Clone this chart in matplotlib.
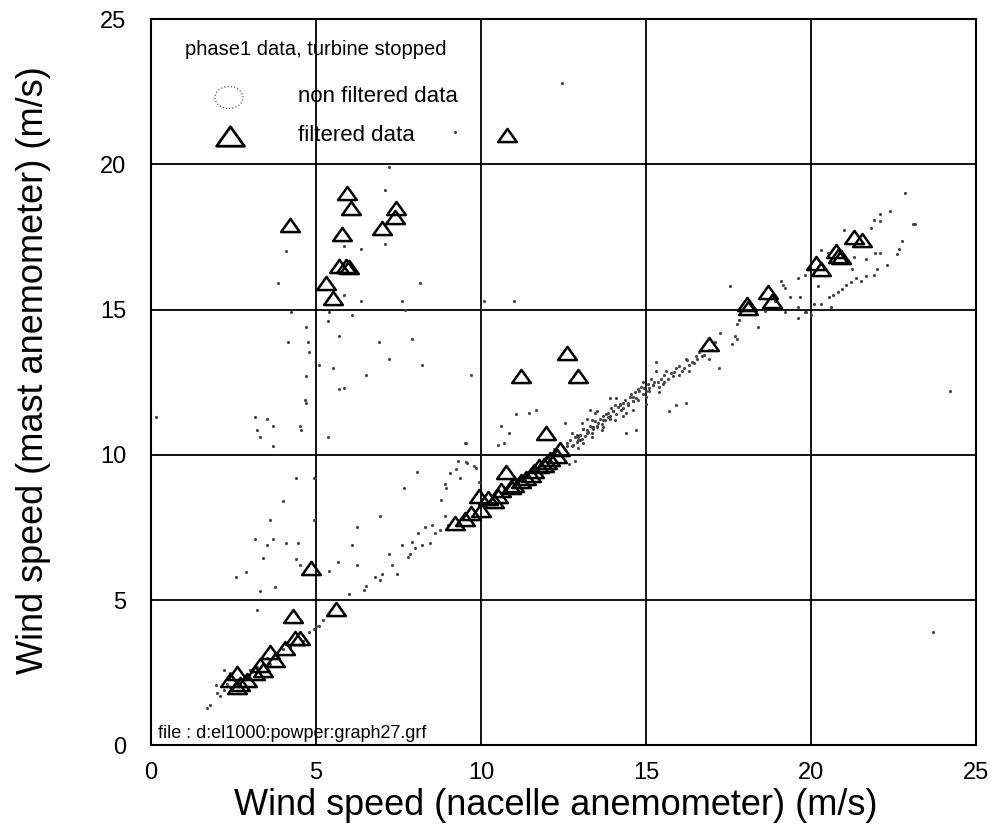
import matplotlib
matplotlib.use("Agg")
import matplotlib.pyplot as plt
from matplotlib.path import Path
from matplotlib.patches import Ellipse

plt.rcParams['font.family'] = ['Liberation Sans', 'DejaVu Sans']

# filtered data (triangles)
filt_x = [4.2, 5.95, 6.07, 7.43, 7.4, 7.0, 5.8, 5.7, 5.9, 6.0, 5.3, 5.5, 10.8,
          4.86, 5.6, 4.3, 4.35, 4.5, 4.05, 3.6, 3.75, 3.3, 3.4, 3.15, 2.6, 2.4, 2.6, 2.9, 2.7,
          9.2, 9.5, 9.7, 10.0, 9.94, 10.4, 10.2, 10.5, 10.6, 10.75, 10.9, 11.0, 11.2, 11.35,
          11.5, 11.6, 11.75, 11.9, 12.0, 12.1, 12.3, 12.4, 11.96,
          11.2, 12.6, 12.95, 16.9, 18.07, 18.1, 18.7, 18.8, 20.15, 20.3, 20.75, 20.8, 20.9,
          21.3, 21.55]
filt_y = [17.9, 19.0, 18.5, 18.5, 18.2, 17.8, 17.6, 16.5, 16.5, 16.45, 15.9, 15.4, 21.0,
          6.1, 4.7, 4.45, 3.7, 3.7, 3.35, 3.2, 2.93, 2.76, 2.6, 2.5, 2.5, 2.25, 2.0, 2.24, 2.1,
          7.65, 7.8, 8.0, 8.1, 8.6, 8.4, 8.5, 8.6, 8.8, 9.4, 8.9, 8.95, 9.1, 9.2,
          9.3, 9.45, 9.6, 9.65, 9.75, 9.85, 9.95, 10.2, 10.76,
          12.7, 13.5, 12.7, 13.8, 15.2, 15.07, 15.6, 15.3, 16.6, 16.4, 17.0, 16.86, 16.8,
          17.5, 17.4]

# non filtered data (small dots)
raw_x = [1.7, 1.96, 1.8, 2.0, 2.1, 2.2, 2.3, 2.4, 2.6, 2.9, 3.0, 3.2, 3.5, 3.6, 3.8, 4.0,
         4.2, 4.6, 4.8, 5.0, 5.2, 5.4, 2.4, 2.2,
         6.0, 6.45, 6.95, 7.45, 7.85, 8.45, 8.75, 6.8, 7.2, 7.6, 8.1, 8.5, 7.9, 8.3, 8.9,
         7.0, 7.3, 7.8, 8.0, 8.2, 8.6, 9.0, 6.5,
         5.65, 6.25, 6.25, 6.95, 7.67, 8.07, 8.9, 9.06, 9.3, 9.58, 9.8, 6.1, 5.4,
         2.57, 2.87, 3.3, 3.75, 3.4, 3.15, 3.7, 3.5, 4.1, 4.45, 3.6, 4.0, 4.4, 4.4, 4.5,
         4.95, 4.95, 4.95, 5.1, 3.2,
         3.15, 3.5, 3.2, 3.3, 3.7, 3.7, 4.5, 4.55, 4.65, 4.7, 4.7, 4.75, 4.8, 4.15, 4.7,
         5.1, 5.35, 5.5, 5.7, 5.35, 5.7, 5.85, 6.5, 6.9, 7.2, 7.9, 8.2, 9.7, 9.5, 4.25,
         5.4, 6.1, 7.7, 0.15,
         4.1, 3.85, 5.85, 6.35, 7.1, 7.1, 7.2, 8.15, 7.6, 6.35, 5.85, 11.0, 9.2, 12.45, 10.1,
         11.05, 11.45, 11.65, 10.6, 10.85, 9.55, 10.5, 10.7, 12.55, 12.75, 12.95, 13.2, 13.35,
         12.85, 12.65, 9.55, 9.25, 9.35, 8.95, 8.8, 9.85, 9.95,
         12.75, 12.95, 13.2, 13.35, 13.3, 13.55, 13.85, 13.95, 14.15, 14.4, 14.45, 14.55,
         14.75, 14.85, 15.0, 15.15, 15.4, 15.45, 15.6, 15.8, 16.0, 16.2, 16.4, 16.5, 16.6,
         15.7, 15.9, 16.2, 14.1, 13.9, 14.7, 14.4, 15.3, 15.3, 17.2, 17.1, 17.6, 17.7, 17.75,
         17.25, 13.35, 13.45, 13.05, 13.65, 14.75, 15.0, 15.4,
         12.6, 12.9, 13.1, 13.5, 13.7, 13.8, 14.0, 14.2, 14.3, 14.6, 14.9, 15.1, 15.25, 15.55,
         15.75, 16.1, 16.3, 16.7, 16.9, 13.0, 13.4, 13.9, 14.25, 14.6, 15.2, 12.2, 12.4,
         11.8, 12.0, 11.6,
         12.6, 12.7, 12.8, 12.85, 12.9, 13.0, 13.05, 13.1, 13.15, 13.25, 13.3, 13.4, 13.45,
         13.5, 13.6, 13.65, 13.7, 13.75, 13.85, 13.9, 14.0, 14.05, 14.1, 14.2, 14.3, 14.35,
         14.45, 14.5, 14.6, 14.65, 14.7, 14.8, 14.9, 14.95, 15.05, 15.1, 15.2, 15.35, 15.5,
         15.65, 15.85, 16.0, 16.15, 16.3, 16.45, 16.55, 16.75, 16.9, 17.0, 15.55, 15.9, 16.25,
         13.2, 13.5, 13.1, 12.95, 13.35, 13.7, 14.05, 14.3, 14.6, 15.0,
         22.85, 22.4, 22.1, 21.9, 22.1, 21.8, 21.0, 23.15, 22.75, 22.65, 22.6, 22.3, 22.1,
         21.95, 22.0, 21.9, 21.65, 21.5, 21.35, 21.2, 21.05, 20.95, 20.8, 20.65, 20.55, 21.3,
         21.65, 21.25, 20.2, 19.8, 19.6, 19.2, 19.35, 19.65, 19.6, 19.85, 20.1, 20.3, 20.6,
         19.2, 19.1, 19.15, 20.3, 20.5,
         19.6, 19.8, 18.4, 17.8, 17.75, 17.55, 18.9, 18.6, 20.0, 23.1, 24.2, 23.7]
raw_y = [1.3, 2.07, 1.4, 1.8, 1.7, 1.9, 2.1, 2.0, 2.2, 2.4, 2.6, 2.7, 3.0, 2.8, 3.1, 3.3,
         3.4, 3.6, 3.9, 4.1, 4.3, 4.5, 2.5, 2.6,
         5.2, 5.35, 5.7, 5.9, 6.6, 6.95, 7.4, 5.8, 6.6, 6.9, 7.3, 7.6, 7.0, 7.5, 7.9,
         5.9, 6.2, 6.5, 6.8, 6.9, 7.3, 7.6, 5.5,
         6.3, 6.2, 7.5, 7.9, 8.86, 9.4, 9.0, 9.38, 9.8, 9.72, 9.6, 6.9, 6.0,
         5.8, 5.97, 5.3, 5.45, 6.45, 7.1, 7.1, 6.9, 6.95, 6.95, 7.75, 8.4, 9.2, 6.4, 6.2,
         9.2, 7.75, 4.0, 4.1, 4.65,
         11.3, 11.25, 10.85, 10.6, 10.3, 11.0, 11.0, 10.86, 11.9, 11.8, 12.7, 13.9, 13.55,
         13.9, 14.4, 13.1, 14.6, 13.0, 14.1, 10.6, 12.25, 12.3, 12.75, 13.9, 13.3, 14.0,
         13.1, 12.75, 10.4, 14.9, 14.9, 14.8, 15.0, 11.3,
         17.0, 15.9, 17.2, 17.1, 17.25, 19.1, 19.9, 15.9, 15.3, 15.28, 15.5, 15.3, 21.1,
         22.8, 15.3,
         11.4, 11.45, 11.55, 11.0, 10.75, 10.4, 10.35, 10.4, 11.1, 10.75, 10.5, 10.75, 10.95,
         9.8, 9.7, 9.75, 9.5, 9.2, 8.85, 8.45, 9.55, 9.07,
         10.3, 10.6, 10.85, 10.75, 11.55, 11.1, 11.3, 11.6, 11.65, 11.45, 11.8, 12.1,
         12.25, 12.35, 12.0, 12.6, 12.15, 12.6, 12.9, 12.7, 13.05, 13.3, 13.2, 13.4, 13.55,
         11.5, 11.7, 11.8, 11.95, 11.95, 10.85, 10.75, 13.2, 12.9, 13.0, 13.9, 13.8, 14.1, 14.5,
         14.2, 11.2, 11.45, 11.1, 10.85, 11.9, 12.2, 12.35,
         10.4, 10.7, 10.9, 11.0, 11.2, 11.4, 11.5, 11.7, 11.8, 12.0, 12.1, 12.3, 12.5, 12.5,
         12.8, 12.9, 13.1, 13.4, 13.6, 10.5, 10.95, 11.35, 11.55, 11.85, 12.4, 10.2, 10.0,
         9.7, 9.9, 9.5,
         10.3, 10.5, 10.35, 10.6, 10.45, 10.7, 10.55, 10.9, 10.65, 10.8, 11.0, 10.9, 11.15,
         10.95, 11.25, 11.05, 11.35, 11.2, 11.45, 11.25, 11.5, 11.7, 11.4, 11.75, 11.6, 11.9,
         11.7, 12.0, 11.85, 12.15, 11.95, 12.2, 12.5, 12.3, 12.45, 12.2, 12.4, 12.5, 12.45,
         12.6, 12.85, 12.75, 13.0, 12.9, 13.15, 13.3, 13.45, 13.3, 13.6, 12.75, 13.0, 13.25,
         11.25, 11.5, 10.4, 10.25, 10.6, 10.95, 11.2, 11.35, 11.55, 11.75,
         19.0, 18.4, 18.3, 18.1, 18.05, 17.8, 17.75, 17.95, 17.35, 17.1, 16.9, 16.55, 16.95,
         16.95, 16.4, 16.2, 16.15, 16.0, 16.1, 15.95, 15.85, 15.7, 15.6, 15.5, 15.45, 16.8,
         16.75, 16.4, 15.8, 16.2, 16.1, 15.75, 15.45, 15.45, 15.1, 14.9, 15.2, 15.2, 15.1,
         14.9, 16.0, 15.85, 17.05, 16.95,
         14.7, 14.9, 14.4, 14.65, 14.0, 15.8, 15.3, 14.95, 14.8, 17.95, 12.2, 3.9]

ticks = [0, 5, 10, 15, 20, 25]

fig = plt.figure(figsize=(9.94, 8.3), dpi=100)
ax = fig.add_axes([0.152, 0.102, 0.830, 0.875])

ax.plot(raw_x, raw_y, linestyle='none', marker='.', markersize=2.5, color='#444444')

# wide open triangle like the original
tri = Path([(0, 0.7), (-1, -0.7), (1, -0.7), (0, 0.7)],
           [Path.MOVETO, Path.LINETO, Path.LINETO, Path.CLOSEPOLY])
ax.plot(filt_x, filt_y, linestyle='none', marker=tri, markersize=13.5,
        markerfacecolor='none', markeredgecolor='black', markeredgewidth=1.8)

ax.set_xlim(0, 25)
ax.set_ylim(0, 25)
ax.set_xticks(ticks)
ax.set_yticks(ticks)
ax.set_xticklabels([str(t) for t in ticks], fontsize=17)
ax.set_yticklabels([str(t) for t in ticks], fontsize=17)
ax.tick_params(axis='x', length=0, pad=12)
ax.tick_params(axis='y', length=0, pad=18)
ax.grid(True, color='black', linewidth=1.3)
ax.set_axisbelow(True)
for s in ax.spines.values():
    s.set_linewidth(1.5)

ax.set_xlabel('Wind speed (nacelle anemometer) (m/s)', fontsize=26)
ax.set_ylabel('Wind speed (mast anemometer) (m/s)', fontsize=26)
ax.xaxis.label.set_va('center')
ax.yaxis.label.set_va('center')
ax.xaxis.set_label_coords(0.49, -0.083)
ax.yaxis.set_label_coords(-0.143, 0.517)

# hand-made legend, as in the original
ax.text(1.03, 23.95, 'phase1 data, turbine stopped', fontsize=14.5, va='center')
ax.add_patch(Ellipse((2.36, 22.3), 0.85, 0.76, fill=False, linestyle=':',
                     linewidth=0.9, edgecolor='#555555'))
ax.text(4.44, 22.35, 'non filtered data', fontsize=16, va='center')
ax.plot([2.39], [20.97], marker=tri, markersize=20, markerfacecolor='none',
        markeredgecolor='black', markeredgewidth=2.0)
ax.text(4.44, 21.0, 'filtered data', fontsize=16, va='center')

ax.text(0.2, 0.4, 'file : d:el1000:powper:graph27.grf', fontsize=13, va='center')

fig.savefig('out.png', dpi=100)
